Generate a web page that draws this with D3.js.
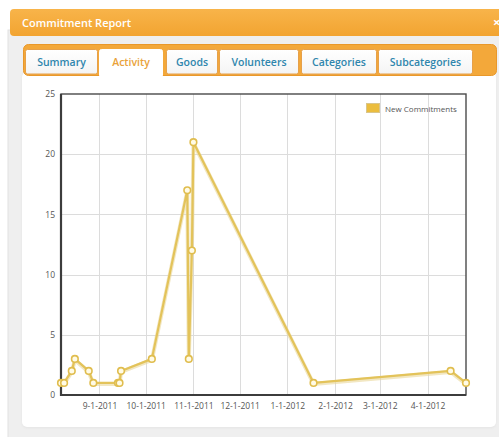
<!DOCTYPE html>
<html>
<head>
<meta charset="utf-8">
<script src="https://cdn.jsdelivr.net/npm/d3@7"></script>
<style>
  html, body { margin: 0; padding: 0; background: #fff; }
  svg { display: block; font-family: "Open Sans", "DejaVu Sans", sans-serif; }
</style>
</head>
<body>
<svg id="chart" width="499" height="437"></svg>
<script>
// Commitment activity by date
const dates = ["2011-08-07","2011-08-09","2011-08-14","2011-08-16","2011-08-25","2011-08-28",
               "2011-09-13","2011-09-14","2011-09-15","2011-10-05","2011-10-28","2011-10-29",
               "2011-10-31","2011-11-01","2012-01-18","2012-04-16","2012-04-26"];
const commitments = [1,1,2,3,2,1,1,1,2,3,17,3,12,21,1,2,1];
const seriesName = "New Commitments";
const yTicks = [0,5,10,15,20,25];
const tabs = ["Summary","Activity","Goods","Volunteers","Categories","Subcategories"];
const activeTab = "Activity";
const title = "Commitment Report";

const parse = d3.timeParse("%Y-%m-%d");
const data = dates.map((d, i) => ({ date: parse(d), value: commitments[i] }));

const svg = d3.select("#chart");
const defs = svg.append("defs");

// header gradient
const hg = defs.append("linearGradient").attr("id", "hdr").attr("x1", 0).attr("y1", 0).attr("x2", 0).attr("y2", 1);
hg.append("stop").attr("offset", "0%").attr("stop-color", "#f8b44a");
hg.append("stop").attr("offset", "100%").attr("stop-color", "#f2a431");

const tg = defs.append("linearGradient").attr("id", "tabbg").attr("x1", 0).attr("y1", 0).attr("x2", 0).attr("y2", 1);
tg.append("stop").attr("offset", "0%").attr("stop-color", "#ffffff");
tg.append("stop").attr("offset", "100%").attr("stop-color", "#f4f4f4");

const sh = defs.append("filter").attr("id", "soft").attr("x", "-10%").attr("y", "-10%").attr("width", "120%").attr("height", "120%");
sh.append("feGaussianBlur").attr("stdDeviation", 1.2);

// window body
svg.append("rect").attr("x", 8).attr("y", 30).attr("width", 500).attr("height", 420)
  .attr("fill", "#efefef").attr("stroke", "#e2e2e2");

// header bar
svg.append("rect").attr("x", 10).attr("y", 9).attr("width", 500).attr("height", 27).attr("rx", 4)
  .attr("fill", "url(#hdr)");
svg.append("text").attr("x", 22).attr("y", 26.5).attr("fill", "#fff").attr("font-size", 11)
  .attr("font-weight", 600).text(title);
svg.append("text").attr("x", 493).attr("y", 27).attr("fill", "#fff").attr("font-size", 13)
  .attr("font-weight", 700).text("×");

// content panel
svg.append("rect").attr("x", 22).attr("y", 72).attr("width", 474).attr("height", 356).attr("rx", 5)
  .attr("fill", "#e4e4e4").attr("filter", "url(#soft)");
svg.append("rect").attr("x", 22).attr("y", 72).attr("width", 474).attr("height", 355).attr("rx", 5)
  .attr("fill", "#fff");

// tab strip
svg.append("rect").attr("x", 23.5).attr("y", 44.5).attr("width", 473).attr("height", 31).attr("rx", 5)
  .attr("fill", "#f3a83a").attr("stroke", "#e9982a");

const tabX = [25, 99, 166, 219, 301, 378];
const tabW = [72, 63, 51, 79, 75, 94];
tabs.forEach((t, i) => {
  const active = t === activeTab;
  svg.append("rect").attr("x", tabX[i] + 0.5).attr("y", 49.5).attr("width", tabW[i])
    .attr("height", active ? 28 : 24.5).attr("rx", 2)
    .attr("fill", active ? "#fff" : "url(#tabbg)")
    .attr("stroke", active ? "#fff" : "#e6a04a");
  svg.append("text").attr("x", tabX[i] + 0.5 + tabW[i] / 2).attr("y", 66)
    .attr("text-anchor", "middle").attr("font-size", 10.5).attr("font-weight", 600)
    .attr("fill", active ? "#e9a23a" : "#2f86ad").text(t);
});

// plot area
const L = 61, R = 466, T = 94, B = 395;
const x = d3.scaleTime().domain(d3.extent(data, d => d.date)).range([L, R]);
const y = d3.scaleLinear().domain([0, 25]).range([B, T]);

const xTicks = d3.timeMonth.range(d3.timeMonth.ceil(x.domain()[0]), x.domain()[1]);
const fmt = d3.timeFormat("%-m-%-d-%Y");

// grid
svg.append("g").selectAll("line").data(xTicks).join("line")
  .attr("x1", d => Math.round(x(d)) + 0.5).attr("x2", d => Math.round(x(d)) + 0.5)
  .attr("y1", T).attr("y2", B).attr("stroke", "#dcdcdc");
svg.append("g").selectAll("line").data(yTicks.slice(1, -1)).join("line")
  .attr("x1", L).attr("x2", R)
  .attr("y1", d => Math.round(y(d)) + 0.5).attr("y2", d => Math.round(y(d)) + 0.5)
  .attr("stroke", "#dcdcdc");

// axes
const xAxis = svg.append("g").attr("transform", `translate(0,${B})`)
  .call(d3.axisBottom(x).tickValues(xTicks).tickFormat(fmt).tickSize(0).tickPadding(8));
const yAxis = svg.append("g").attr("transform", `translate(${L},0)`)
  .call(d3.axisLeft(y).tickValues(yTicks).tickSize(0).tickPadding(6));
[xAxis, yAxis].forEach(a => {
  a.select(".domain").remove();
  a.selectAll("text").attr("fill", "#555").attr("font-size", 8.5)
    .attr("font-family", "Open Sans, DejaVu Sans, sans-serif");
});

// plot frame
svg.append("rect").attr("x", L).attr("y", T).attr("width", R - L).attr("height", B - T)
  .attr("fill", "none").attr("stroke", "#4a4a4a").attr("stroke-width", 1.4);
svg.append("path").attr("d", `M${L},${T}V${B}H${R}`).attr("fill", "none")
  .attr("stroke", "#3c3c3c").attr("stroke-width", 2.2);

// series
const line = d3.line().x(d => x(d.date)).y(d => y(d.value));
svg.append("path").datum(data).attr("d", line).attr("fill", "none")
  .attr("stroke", "#e9d79a").attr("stroke-width", 4).attr("stroke-linejoin", "round")
  .attr("opacity", 0.6).attr("transform", "translate(0,1)");
svg.append("path").datum(data).attr("d", line).attr("fill", "none")
  .attr("stroke", "#e3c35a").attr("stroke-width", 2.2).attr("stroke-linejoin", "round");
svg.append("g").selectAll("circle").data(data).join("circle")
  .attr("cx", d => x(d.date)).attr("cy", d => y(d.value)).attr("r", 3.3)
  .attr("fill", "#fffbe6").attr("stroke", "#e0bd4e").attr("stroke-width", 1.6);

// legend
svg.append("rect").attr("x", 366.5).attr("y", 103.5).attr("width", 13).attr("height", 9)
  .attr("fill", "#ebbd3e").attr("stroke", "#d9c58a");
svg.append("text").attr("x", 385).attr("y", 111.5).attr("font-size", 8).attr("fill", "#555")
  .text(seriesName);
</script>
</body>
</html>
